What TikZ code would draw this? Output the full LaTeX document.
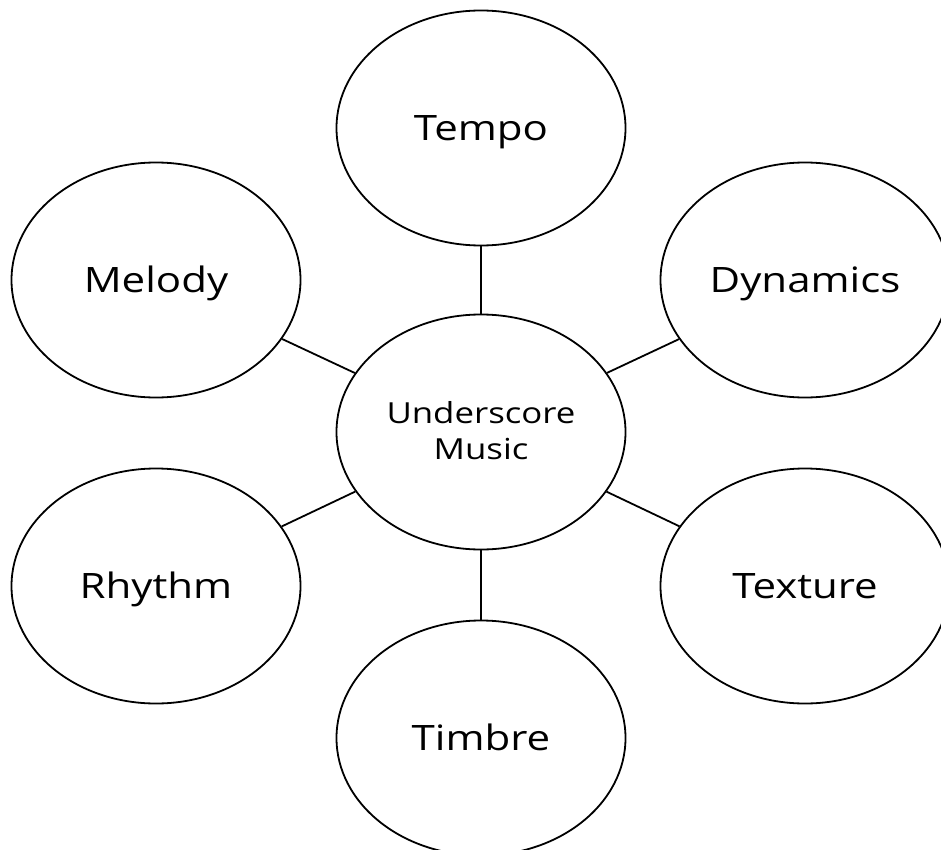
\documentclass[tikz,border=0pt]{standalone}
\usepackage{fontspec}
\usepackage{graphicx}
\setmainfont{Open Sans}
\usetikzlibrary{shapes.geometric}
\newcommand\sx[1]{\scalebox{1.2}[1]{#1}}
\tikzset{
  bubble/.style={ellipse, draw=black, line width=1.8pt, minimum width=289pt, minimum height=235pt, inner sep=0pt},
  big/.style={font=\fontsize{35}{42}\selectfont, inner sep=0pt, anchor=base},
  small/.style={font=\fontsize{29}{36}\selectfont, inner sep=0pt, align=center, anchor=north},
  link/.style={line width=1.8pt, draw=black}
}
\begin{document}
\begin{tikzpicture}[x=1pt,y=1pt]
\useasboundingbox (0,0) rectangle (941,-850);
\begin{scope}
\clip (0,0) rectangle (941,-850);
\node[bubble] (c) at (481,-432) {};
\node[bubble] (tempo) at (481,-128) {};
\node[bubble] (timbre) at (481,-738) {};
\node[bubble] (melody) at (156,-280) {};
\node[bubble] (dyn) at (805,-280) {};
\node[bubble] (rhythm) at (156,-586) {};
\node[bubble] (texture) at (805,-586) {};
\draw[link] (c) -- (tempo);
\draw[link] (c) -- (timbre);
\draw[link] (c) -- (melody);
\draw[link] (c) -- (dyn);
\draw[link] (c) -- (rhythm);
\draw[link] (c) -- (texture);
\end{scope}
\node[big] (tempo-t) at ([yshift=-12.5pt]tempo.center) {\sx{Tempo}};
\node[big] (timbre-t) at ([yshift=-12.5pt]timbre.center) {\sx{Timbre}};
\node[big] (melody-t) at ([yshift=-12.5pt]melody.center) {\sx{Melody}};
\node[big] (dyn-t) at ([yshift=-12.5pt]dyn.center) {\sx{Dynamics}};
\node[big] (rhythm-t) at ([yshift=-12.5pt]rhythm.center) {\sx{Rhythm}};
\node[big] (texture-t) at ([yshift=-12.5pt]texture.center) {\sx{Texture}};
\node[small] (c-t) at (481,-401.5) {\sx{Underscore}\\\sx{Music}};
\end{tikzpicture}
\end{document}
